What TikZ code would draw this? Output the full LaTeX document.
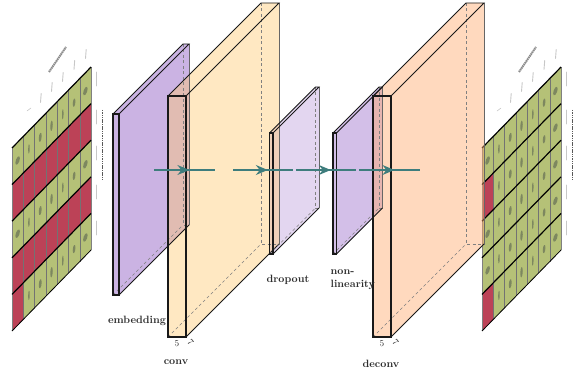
\documentclass[tikz,border=0pt]{standalone}
\usetikzlibrary{arrows.meta,decorations.markings}
\definecolor{cellgreen}{RGB}{181,193,119}
\definecolor{cellred}{RGB}{188,66,87}
\definecolor{markgray}{RGB}{125,135,95}
\definecolor{labelgray}{RGB}{45,45,45}
\definecolor{flowteal}{RGB}{62,125,125}
\definecolor{purpleA}{RGB}{203,179,227}
\definecolor{purpleB}{RGB}{227,214,240}
\definecolor{purpleC}{RGB}{211,191,232}
\definecolor{orangeA}{RGB}{255,202,114}
\definecolor{peachA}{RGB}{255,170,110}
\tikzset{
  gridrule/.style={black,line width=1.2pt},
  gridcol/.style={black!55,line width=.45pt},
  smudge/.style={fill=markgray,draw=none},
  scrawl/.style={black!22,line width=.9pt,line cap=round},
  scrawldark/.style={black!65,line width=1.3pt,dash pattern=on 1.5pt off .8pt},
  hidden/.style={dash pattern=on 3pt off 2.5pt,black!50,line width=.5pt},
  backedge/.style={black!60,line width=.7pt},
  frontedge/.style={black!90,line width=1.1pt},
  caption/.style={font=\fontsize{10.6}{12}\selectfont\bfseries,text=labelgray,inner sep=0pt},
  dim/.style={font=\fontsize{9}{10}\selectfont,text=labelgray,inner sep=0pt},
  flow/.style={flowteal,line width=1.3pt,postaction={decorate}},
  flowhead/.style={decoration={markings,mark=at position .58 with {\arrow{Stealth[length=12pt,width=10pt,inset=4pt]}}}},
}
% x, w, top, h, d, colour, opacity
\newcommand{\slabfill}[7]{
  \fill[#6,fill opacity=#7] (#1,#3) -- (#1+#5,#3-#5) -- (#1+#5+#2,#3-#5) -- (#1+#5+#2,#3-#5+#4)
    -- (#1+#2,#3+#4) -- (#1,#3+#4) -- cycle;
}
\newcommand{\slablines}[5]{
  \draw[hidden] (#1+#5,#3-#5) -- (#1+#5,#3-#5+#4) -- (#1+#5+#2,#3-#5+#4);
  \draw[hidden] (#1,#3+#4) -- (#1+#5,#3-#5+#4);
  \draw[backedge] (#1+#5+#2,#3-#5) -- (#1+#5+#2,#3-#5+#4);
  \draw[frontedge,line width=.9pt] (#1,#3) -- (#1+#5,#3-#5) -- (#1+#5+#2,#3-#5) -- (#1+#2,#3);
  \draw[frontedge,line width=.9pt] (#1+#5+#2,#3-#5+#4) -- (#1+#2,#3+#4);
  \draw[frontedge] (#1,#3) rectangle (#1+#2,#3+#4);
}
\newcommand{\cellmarks}{
  \foreach \r in {0,...,4}{
    \foreach \c/\wd/\ht in {0/.2/.1,1/.07/.13,2/.13/.12,3/.11/.14,4/.07/.14,5/.12/.11,6/.2/.1}{
      \fill[smudge] (\c+.5,\r+.5) ellipse [x radius=\wd,y radius=\ht];
    }
  }
}
\newcommand{\cellat}[2]{(#1,#2) -- (#1+1,#2) -- (#1+1,#2+1) -- (#1,#2+1) -- cycle}
\newcommand{\rowat}[1]{(0,#1) -- (7,#1) -- (7,#1+1) -- (0,#1+1) -- cycle}
\newcommand{\gridlines}{
  \foreach \c in {1,...,6}{\draw[gridcol] (\c,0) -- (\c,5);}
  \draw[black!50,line width=.3pt] (0,0) -- (0,5);
  \draw[black!50,line width=.3pt] (7,0) -- (7,5);
  \foreach \r in {0,...,4}{\draw[gridrule] (0,\r) -- (7,\r);}
  \draw[black,line width=.8pt] (0,5) -- (7,5);
}
\newcommand{\gridlabels}[1]{
  \begin{scope}[shift={(#1pt,0pt)}]
    \draw[scrawl,line width=.6pt] (-2,111) -- (2,108);
    \foreach \x/\y in {11.5/98,22.5/87,33.5/77,45/65,56.5/54}{
      \draw[scrawl] (\x,\y+4.5) -- (\x+.7,\y-4.5);
    }
    \draw[black!45,line width=2pt,dash pattern=on 1.5pt off .6pt] (20,72) -- (37,47);
    \foreach \y in {79,117,153,192,228}{
      \draw[scrawl] (67.5,\y-7) -- (67.5,\y+7);
    }
    \draw[scrawldark] (73.5,110) -- (73.5,181);
  \end{scope}
}
\begin{document}
\begin{tikzpicture}[x=1pt,y=-1pt]
\useasboundingbox (0,0) rectangle (575,374);

% left table
\begin{scope}[shift={(12pt,-148pt)},x={(11.29pt,11.57pt)},y={(0pt,-36.6pt)}]
  \fill[cellgreen] (0,0) -- (7,0) -- (7,5) -- (0,5) -- cycle;
  \cellmarks
  \fill[cellred] \rowat{1};
  \fill[cellred] \rowat{3};
  \fill[cellred] \cellat{0}{4};
  \gridlines
\end{scope}
\gridlabels{29}

% right table
\begin{scope}[shift={(482pt,-148pt)},x={(11.29pt,11.57pt)},y={(0pt,-36.6pt)}]
  \fill[cellgreen] (0,0) -- (7,0) -- (7,5) -- (0,5) -- cycle;
  \cellmarks
  \fill[cellred] \cellat{0}{1};
  \fill[cellred] \cellat{0}{4};
  \gridlines
\end{scope}
\gridlabels{499}

% slab fills, purple layers first so that the orange ones tint them
\slabfill{113}{6}{114}{181}{70}{purpleA}{1}
\slabfill{269.5}{3.5}{133}{121}{46}{purpleB}{1}
\slabfill{333}{3.5}{133}{121}{46}{purpleC}{1}
\slabfill{168}{18}{96}{241}{93}{orangeA}{.43}
\slabfill{373}{18}{96}{241}{93}{peachA}{.45}

% slab lines
\slablines{113}{6}{114}{181}{70}
\slablines{168}{18}{96}{241}{93}
\slablines{269.5}{3.5}{133}{121}{46}
\slablines{333}{3.5}{133}{121}{46}
\slablines{373}{18}{96}{241}{93}

% connectors
\coordinate (f1a) at (154,170); \coordinate (f1b) at (215,170);
\coordinate (f2a) at (233,170); \coordinate (f2b) at (293,170);
\coordinate (f3a) at (296,170); \coordinate (f3b) at (356,170);
\coordinate (f4a) at (359,170); \coordinate (f4b) at (420,170);
\draw[flow,flowhead] (f1a) -- (f1b);
\draw[flow,flowhead] (f2a) -- (f2b);
\draw[flow,flowhead] (f3a) -- (f3b);
\draw[flow,flowhead] (f4a) -- (f4b);

% labels
\node[caption] (lembed) at (137,321) {embedding};
\node[caption] (lconv) at (176,362) {conv};
\node[caption] (ldrop) at (288,280) {dropout};
\node[caption,anchor=west] (lnon) at (330.5,272) {non-};
\node[caption,anchor=west] (llin) at (330.5,285) {linearity};
\node[caption] (ldec) at (381,363.5) {deconv};
\node[dim] (c5) at (177,344) {5};
\node[dim,rotate=-50] (c7) at (190.5,342) {7};
\node[dim] (d5) at (382,344) {5};
\node[dim,rotate=-50] (d7) at (395.5,342) {7};
\end{tikzpicture}
\end{document}
